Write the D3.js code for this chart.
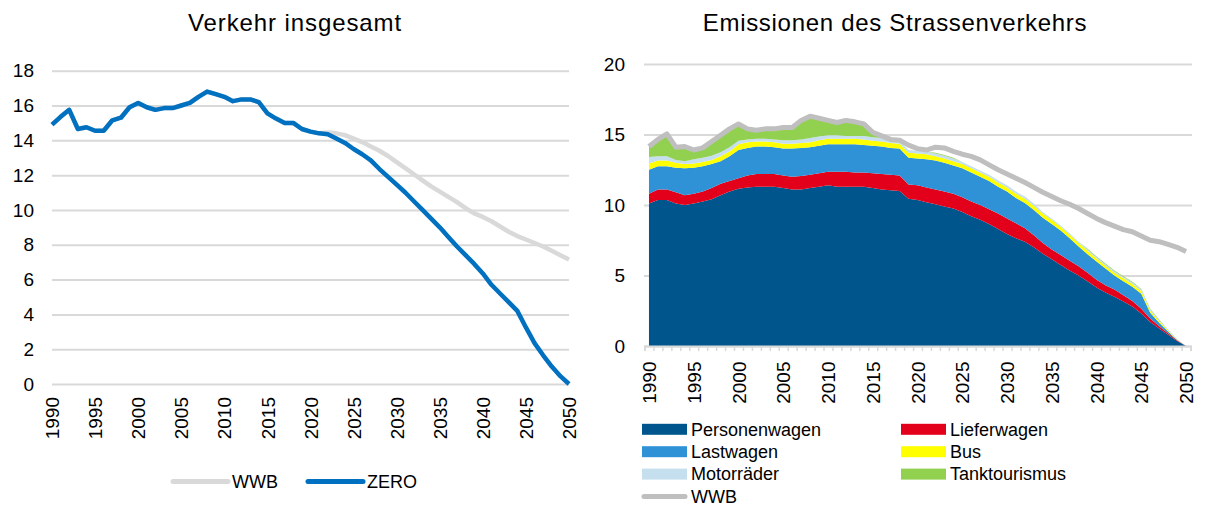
<!DOCTYPE html>
<html>
<head>
<meta charset="utf-8">
<script src="https://cdn.jsdelivr.net/npm/d3@7"></script>
<style>
	body { margin: 0; background: #fff; }
	text { font-family: "Liberation Sans", Arial, sans-serif; fill: #000; }
</style>
</head>
<body>
<div id="grafico"></div>
<script>
// Dati
var anni = d3.range(1990, 2051);
var anniEtichette = [1990, 1995, 2000, 2005, 2010, 2015, 2020, 2025, 2030, 2035, 2040, 2045, 2050];
var tickSinistra = [0, 2, 4, 6, 8, 10, 12, 14, 16, 18];
var tickDestra = [0, 5, 10, 15, 20];

// Verkehr insgesamt
var zero = [14.9, 15.35, 15.75, 14.65, 14.75, 14.55, 14.55, 15.15, 15.3, 15.9,
	16.15, 15.9, 15.75, 15.85, 15.85, 16.0, 16.15, 16.5, 16.8, 16.65,
	16.5, 16.25, 16.35, 16.35, 16.2, 15.55, 15.25, 15.0, 15.0, 14.65,
	14.5, 14.4, 14.35, 14.1, 13.85, 13.5, 13.2, 12.85, 12.35, 11.9,
	11.45, 11.0, 10.5, 10.0, 9.5, 9.0, 8.45, 7.9, 7.4, 6.9,
	6.35, 5.7, 5.2, 4.7, 4.2, 3.25, 2.35, 1.65, 1.0, 0.45, 0];
var wwbVerkehr = [14.9, 15.35, 15.75, 14.65, 14.75, 14.55, 14.55, 15.15, 15.3, 15.9,
	16.15, 15.9, 15.75, 15.85, 15.85, 16.0, 16.15, 16.5, 16.8, 16.65,
	16.5, 16.25, 16.35, 16.35, 16.2, 15.55, 15.25, 15.0, 15.0, 14.65,
	14.5, 14.4, 14.45, 14.4, 14.3, 14.1, 13.9, 13.65, 13.4, 13.1,
	12.75, 12.4, 12.05, 11.7, 11.35, 11.05, 10.75, 10.45, 10.1, 9.8,
	9.6, 9.35, 9.05, 8.75, 8.5, 8.3, 8.1, 7.9, 7.65, 7.4, 7.15];

// Emissionen des Strassenverkehrs
var personenwagen = [10.1, 10.35, 10.35, 10.1, 10.0, 10.1, 10.25, 10.4, 10.7, 10.95,
	11.15, 11.25, 11.3, 11.3, 11.3, 11.2, 11.1, 11.1, 11.2, 11.3,
	11.4, 11.3, 11.3, 11.3, 11.3, 11.2, 11.1, 11.05, 11.0, 10.45,
	10.35, 10.2, 10.05, 9.9, 9.75, 9.5, 9.2, 8.95, 8.65, 8.3,
	7.95, 7.65, 7.4, 7.0, 6.55, 6.15, 5.75, 5.35, 5.0, 4.6,
	4.15, 3.8, 3.5, 3.15, 2.8, 2.3, 1.7, 1.25, 0.8, 0.35, 0];
var lieferwagen = [0.7, 0.75, 0.75, 0.8, 0.7, 0.7, 0.7, 0.8, 0.8, 0.75,
	0.75, 0.85, 0.9, 0.9, 0.9, 0.9, 0.9, 0.95, 0.95, 0.95,
	0.95, 1.05, 1.05, 1.0, 1.0, 1.05, 1.1, 1.1, 1.1, 1.0,
	1.05, 1.05, 1.05, 1.05, 1.05, 1.05, 1.05, 1.05, 1.05, 1.1,
	1.1, 1.05, 0.95, 0.85, 0.75, 0.7, 0.7, 0.7, 0.65, 0.6,
	0.55, 0.5, 0.5, 0.45, 0.4, 0.35, 0.25, 0.15, 0.1, 0.05, 0];
var lastwagen = [1.7, 1.65, 1.65, 1.75, 1.9, 1.85, 1.8, 1.7, 1.6, 1.75,
	2.0, 1.95, 1.95, 1.95, 1.9, 1.9, 2.0, 2.0, 1.95, 1.95,
	1.95, 1.95, 1.95, 2.0, 1.95, 1.95, 1.95, 1.9, 1.9, 1.9,
	1.9, 2.0, 2.05, 2.05, 2.0, 2.05, 2.05, 2.0, 2.0, 1.9,
	1.9, 1.8, 1.8, 1.8, 1.8, 1.8, 1.75, 1.6, 1.4, 1.3,
	1.3, 1.2, 1.0, 1.0, 1.0, 1.05, 0.4, 0.25, 0.12, 0.02, 0];
var bus = [0.45, 0.4, 0.4, 0.35, 0.3, 0.3, 0.3, 0.3, 0.35, 0.35,
	0.4, 0.4, 0.35, 0.35, 0.35, 0.35, 0.35, 0.35, 0.35, 0.4,
	0.4, 0.4, 0.4, 0.4, 0.4, 0.35, 0.35, 0.35, 0.35, 0.35,
	0.35, 0.35, 0.3, 0.3, 0.3, 0.3, 0.3, 0.3, 0.3, 0.3,
	0.3, 0.3, 0.3, 0.3, 0.3, 0.3, 0.25, 0.25, 0.25, 0.25,
	0.2, 0.2, 0.2, 0.2, 0.2, 0.2, 0.15, 0.12, 0.08, 0.03, 0];
var motorraeder = [0.45, 0.3, 0.3, 0.2, 0.2, 0.3, 0.3, 0.3, 0.3, 0.3,
	0.25, 0.2, 0.2, 0.2, 0.2, 0.25, 0.25, 0.25, 0.3, 0.25,
	0.25, 0.25, 0.2, 0.2, 0.25, 0.25, 0.25, 0.2, 0.2, 0.2,
	0.2, 0.2, 0.2, 0.2, 0.2, 0.15, 0.15, 0.15, 0.15, 0.15,
	0.15, 0.15, 0.15, 0.15, 0.1, 0.1, 0.1, 0.1, 0.1, 0.1,
	0.1, 0.1, 0.1, 0.1, 0.1, 0.1, 0.1, 0.08, 0.07, 0.04, 0];
var tanktourismus = [0.75, 1.2, 1.6, 0.9, 1.05, 0.65, 0.7, 1.0, 1.2, 1.3,
	1.2, 0.75, 0.6, 0.7, 0.75, 0.9, 0.9, 1.35, 1.55, 1.3,
	1.05, 0.9, 1.1, 1.0, 0.85, 0.35, 0.15, 0, 0, 0,
	0, 0, 0.05, 0.05, 0.05, 0, 0, 0, 0, 0,
	0, 0, 0, 0, 0, 0, 0, 0, 0, 0.05,
	0.05, 0.05, 0.05, 0.05, 0.05, 0.05, 0.05, 0.03, 0, 0, 0];
var wwbEmissionen = [14.15, 14.65, 15.05, 14.1, 14.15, 13.9, 14.05, 14.5, 14.95, 15.4,
	15.75, 15.4, 15.3, 15.4, 15.4, 15.5, 15.5, 16.0, 16.3, 16.15,
	16.0, 15.85, 16.0, 15.9, 15.75, 15.15, 14.9, 14.65, 14.6, 14.25,
	14.0, 13.9, 14.1, 14.05, 13.8, 13.6, 13.45, 13.2, 12.85, 12.5,
	12.2, 11.9, 11.6, 11.25, 10.9, 10.6, 10.3, 10.05, 9.75, 9.4,
	9.05, 8.75, 8.5, 8.25, 8.1, 7.8, 7.5, 7.4, 7.2, 7.0, 6.7];

var serie = [
	{nome: "Personenwagen", valori: personenwagen, colore: "#00558C"},
	{nome: "Lieferwagen", valori: lieferwagen, colore: "#E3001B"},
	{nome: "Lastwagen", valori: lastwagen, colore: "#3092D6"},
	{nome: "Bus", valori: bus, colore: "#FFFF00"},
	{nome: "Motorräder", valori: motorraeder, colore: "#C6DFEF"},
	{nome: "Tanktourismus", valori: tanktourismus, colore: "#92D050"}
];

var svg = d3.select("#grafico")
	.append("svg")
	.attr("width", 1205)
	.attr("height", 506)
	.style("display", "block");

svg.append("rect").attr("width", 1205).attr("height", 506).attr("fill", "#fff");

// ---------- Grafico di sinistra ----------
var xL = d3.scaleLinear().domain([1990, 2050]).range([52, 569]);
var yL = d3.scaleLinear().domain([0, 18]).range([384, 70.7]);

svg.append("text")
	.attr("x", 295).attr("y", 31)
	.attr("text-anchor", "middle")
	.style("font-size", "24px")
	.style("letter-spacing", "0.9px")
	.text("Verkehr insgesamt");

var asseYL = svg.append("g")
	.attr("transform", "translate(52,0)")
	.call(d3.axisLeft(yL).tickValues(tickSinistra).tickSize(-(569 - 52)).tickPadding(18));
asseYL.select(".domain").remove();
asseYL.selectAll(".tick line").attr("stroke", "#D9D9D9").attr("stroke-width", 2);
asseYL.selectAll(".tick text").style("font-size", "19px").style("font-family", "Liberation Sans, Arial, sans-serif");

var asseXL = svg.append("g")
	.attr("transform", "translate(0,384)")
	.call(d3.axisBottom(xL).tickValues(anniEtichette).tickSize(0).tickFormat(d3.format("d")));
asseXL.select(".domain").remove();
asseXL.selectAll(".tick text")
	.attr("transform", "rotate(-90)")
	.attr("text-anchor", "end")
	.attr("x", -13)
	.attr("y", 0)
	.attr("dy", "0.35em")
	.style("font-size", "19px")
	.style("font-family", "Liberation Sans, Arial, sans-serif");

var lineaL = function(valori) {
	return d3.line()
		.x(function(d, i) { return xL(anni[i]); })
		.y(function(d) { return yL(d); })(valori);
};

svg.append("path")
	.attr("d", lineaL(wwbVerkehr))
	.attr("fill", "none")
	.attr("stroke", "#D9D9D9")
	.attr("stroke-width", 4.5)
	.attr("stroke-linejoin", "round");

svg.append("path")
	.attr("d", lineaL(zero))
	.attr("fill", "none")
	.attr("stroke", "#0070C0")
	.attr("stroke-width", 4.5)
	.attr("stroke-linejoin", "round");

// legenda sinistra
var legSx = [
	{nome: "WWB", colore: "#D9D9D9", x: 173},
	{nome: "ZERO", colore: "#0070C0", x: 308}
];
legSx.forEach(function(d) {
	svg.append("line")
		.attr("x1", d.x).attr("x2", d.x + 55)
		.attr("y1", 481.5).attr("y2", 481.5)
		.attr("stroke", d.colore).attr("stroke-width", 5)
		.attr("stroke-linecap", "round");
	svg.append("text")
		.attr("x", d.x + 59).attr("y", 481.5)
		.attr("dy", "0.35em")
		.style("font-size", "18px")
		.text(d.nome);
});

// ---------- Grafico di destra ----------
var xR = d3.scaleLinear().domain([1989.5, 2050.5]).range([644.5, 1190.5]);
var yR = d3.scaleLinear().domain([0, 20]).range([346, 64]);

svg.append("text")
	.attr("x", 895).attr("y", 31)
	.attr("text-anchor", "middle")
	.style("font-size", "24px")
	.style("letter-spacing", "0.7px")
	.text("Emissionen des Strassenverkehrs");

var asseYR = svg.append("g")
	.attr("transform", "translate(644,0)")
	.call(d3.axisLeft(yR).tickValues(tickDestra).tickSize(-(1192 - 644)).tickPadding(19));
asseYR.select(".domain").remove();
asseYR.selectAll(".tick line").attr("stroke", "#D9D9D9").attr("stroke-width", 2);
asseYR.selectAll(".tick text").style("font-size", "19px").style("font-family", "Liberation Sans, Arial, sans-serif");

// aree impilate
var righe = anni.map(function(a, i) {
	var r = {anno: a};
	serie.forEach(function(s) { r[s.nome] = s.valori[i]; });
	return r;
});
var pila = d3.stack().keys(serie.map(function(s) { return s.nome; }))(righe);

var area = d3.area()
	.x(function(d) { return xR(d.data.anno); })
	.y0(function(d) { return yR(d[0]); })
	.y1(function(d) { return yR(d[1]); });

svg.append("g")
	.selectAll("path")
	.data(pila)
	.enter()
	.append("path")
	.attr("d", area)
	.attr("fill", function(d, i) { return serie[i].colore; });

svg.append("path")
	.attr("d", d3.line()
		.x(function(d, i) { return xR(anni[i]); })
		.y(function(d) { return yR(d); })(wwbEmissionen))
	.attr("fill", "none")
	.attr("stroke", "#BFBFBF")
	.attr("stroke-width", 5)
	.attr("stroke-linejoin", "round");

// asse X destro con tacche tra gli anni
var asseXR = svg.append("g")
	.attr("transform", "translate(0,346)")
	.call(d3.axisBottom(xR).tickValues(d3.range(1989.5, 2051, 1)).tickSize(5).tickFormat(""));
asseXR.select(".domain").attr("stroke", "#D9D9D9").attr("stroke-width", 2);
asseXR.selectAll(".tick line").attr("stroke", "#D9D9D9").attr("stroke-width", 1.5);

var etichetteXR = svg.append("g")
	.attr("transform", "translate(0,346)")
	.call(d3.axisBottom(xR).tickValues(anniEtichette).tickSize(0).tickFormat(d3.format("d")));
etichetteXR.select(".domain").remove();
etichetteXR.selectAll(".tick text")
	.attr("transform", "rotate(-90)")
	.attr("text-anchor", "end")
	.attr("x", -15.5)
	.attr("y", 0)
	.attr("dy", "0.35em")
	.style("font-size", "19px")
	.style("font-family", "Liberation Sans, Arial, sans-serif");

// legenda destra
var legDx = serie.map(function(s, i) {
	return {nome: s.nome, colore: s.colore, col: i % 2, riga: Math.floor(i / 2), tipo: "area"};
});
legDx.push({nome: "WWB", colore: "#BFBFBF", col: 0, riga: 3, tipo: "linea"});

legDx.forEach(function(d) {
	var x0 = d.col == 0 ? 642 : 901;
	var yc = 429.3 + d.riga * 22.4;
	if (d.tipo == "area") {
		svg.append("rect")
			.attr("x", x0).attr("y", yc - 5.5)
			.attr("width", 45).attr("height", 11)
			.attr("fill", d.colore);
	} else {
		svg.append("line")
			.attr("x1", x0 + 2).attr("x2", x0 + 43)
			.attr("y1", yc).attr("y2", yc)
			.attr("stroke", d.colore).attr("stroke-width", 5)
			.attr("stroke-linecap", "round");
	}
	svg.append("text")
		.attr("x", x0 + 49).attr("y", yc)
		.attr("dy", "0.35em")
		.style("font-size", "18px")
		.text(d.nome);
});
</script>
</body>
</html>
